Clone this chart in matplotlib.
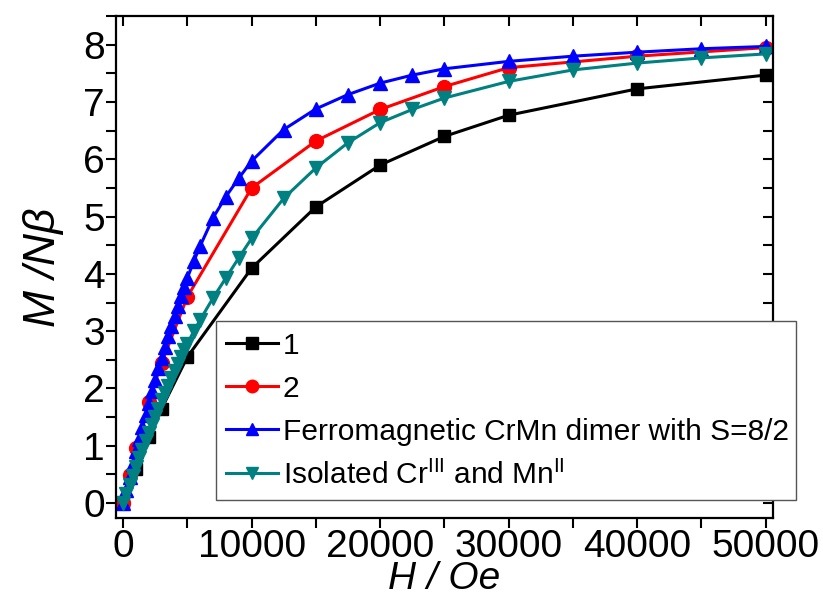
import numpy as np
import matplotlib
matplotlib.use('Agg')
import matplotlib.pyplot as plt
from matplotlib.ticker import MultipleLocator

plt.rcParams['font.family'] = ['Liberation Sans', 'DejaVu Sans']
plt.rcParams['mathtext.fontset'] = 'custom'
plt.rcParams['mathtext.rm'] = 'Liberation Sans'
plt.rcParams['mathtext.it'] = 'Liberation Sans:italic'

# 1
h1 = [0, 1000, 2000, 3000, 5000, 10000, 15000, 20000, 25000, 30000, 40000, 50000]
m1 = [0, 0.6, 1.15, 1.65, 2.55, 4.1, 5.17, 5.9, 6.4, 6.77, 7.23, 7.47]
# 2
h2 = [0, 500, 1000, 2000, 3000, 5000, 10000, 15000, 20000, 25000, 30000, 40000, 50000]
m2 = [0, 0.49, 0.96, 1.77, 2.45, 3.6, 5.5, 6.32, 6.87, 7.27, 7.6, 7.8, 7.95]
# ferromagnetic dimer S=8/2
h3 = [0, 250, 500, 750, 1000, 1250, 1500, 1750, 2000, 2250, 2500, 2750, 3000,
      3250, 3500, 3750, 4000, 4250, 4500, 4750, 5000, 5500, 6000, 7000, 8000,
      9000, 10000, 12500, 15000, 17500, 20000, 22500, 25000, 30000, 35000,
      40000, 45000, 50000]
m3 = [0, 0.23, 0.46, 0.68, 0.9, 1.12, 1.33, 1.54, 1.75, 1.95, 2.15, 2.35, 2.54,
      2.73, 2.91, 3.09, 3.27, 3.44, 3.61, 3.77, 3.93, 4.22, 4.49, 4.98, 5.35,
      5.67, 5.97, 6.52, 6.88, 7.13, 7.33, 7.47, 7.58, 7.71, 7.8,
      7.87, 7.93, 7.97]
# isolated Cr(III) and Mn(II)
h4 = [0, 250, 500, 750, 1000, 1250, 1500, 1750, 2000, 2250, 2500, 2750, 3000,
      3250, 3500, 3750, 4000, 4250, 4500, 4750, 5000, 5500, 6000, 7000, 8000,
      9000, 10000, 12500, 15000, 17500, 20000, 22500, 25000, 30000, 35000,
      40000, 45000, 50000]
m4 = [0, 0.16, 0.32, 0.47, 0.63, 0.78, 0.93, 1.08, 1.23, 1.37, 1.51, 1.65, 1.79,
      1.92, 2.05, 2.18, 2.31, 2.43, 2.55, 2.67, 2.78, 3.0, 3.2, 3.58, 3.93,
      4.28, 4.62, 5.32, 5.85, 6.29, 6.64, 6.87, 7.07, 7.36, 7.56,
      7.68, 7.77, 7.84]

labels = ['1', '2', 'Ferromagnetic CrMn dimer with S=8/2',
          r'Isolated Cr$^{\mathrm{III}}$ and Mn$^{\mathrm{II}}$']

fig = plt.figure(figsize=(8.23, 5.96), dpi=100)
ax = fig.add_axes([0.141, 0.131, 0.798, 0.842])

ax.plot(h1, m1, '-s', color='black', lw=2.2, ms=9, label=labels[0])
ax.plot(h2, m2, '-o', color='red', lw=2.2, ms=10, label=labels[1])
ax.plot(h3, m3, '-^', color='blue', lw=2.2, ms=10, label=labels[2])
ax.plot(h4, m4, '-v', color='#008080', lw=2.2, ms=10, label=labels[3])

ax.set_xlim(-550, 50550)
ax.set_ylim(-0.26, 8.5)
ax.xaxis.set_major_locator(MultipleLocator(10000))
ax.xaxis.set_minor_locator(MultipleLocator(5000))
ax.yaxis.set_major_locator(MultipleLocator(1))
ax.yaxis.set_minor_locator(MultipleLocator(0.5))

for s in ax.spines.values():
    s.set_linewidth(1.6)
ax.tick_params(which='both', direction='out', length=7, width=1.5,
               labelsize=28, pad=1)
ax.tick_params(which='both', top=True, right=True, labeltop=False, labelright=False)
# top/right ticks point inward
for t in ax.xaxis.get_ticklines(minor=False)[1::2] + ax.xaxis.get_ticklines(minor=True)[1::2]:
    t.set_marker(3)
for t in ax.yaxis.get_ticklines(minor=False)[1::2] + ax.yaxis.get_ticklines(minor=True)[1::2]:
    t.set_marker(0)

ax.set_xlabel('H / Oe', fontsize=28, fontstyle='italic', labelpad=-3)
ax.set_ylabel('M /Nβ', fontsize=32, fontstyle='italic', labelpad=14)

leg = ax.legend(loc='upper left', bbox_to_anchor=(0.262, 0.178, 0.705, 0.283),
                bbox_transform=fig.transFigure, mode='expand', borderaxespad=0,
                fontsize=21.5, frameon=True, fancybox=False, framealpha=1,
                handlelength=1.75, handletextpad=0.15, labelspacing=0.5,
                borderpad=0.35, markerscale=0.9)
leg.get_frame().set_edgecolor('#555555')
leg.get_frame().set_linewidth(1.0)

fig.savefig('out.png', dpi=100)
